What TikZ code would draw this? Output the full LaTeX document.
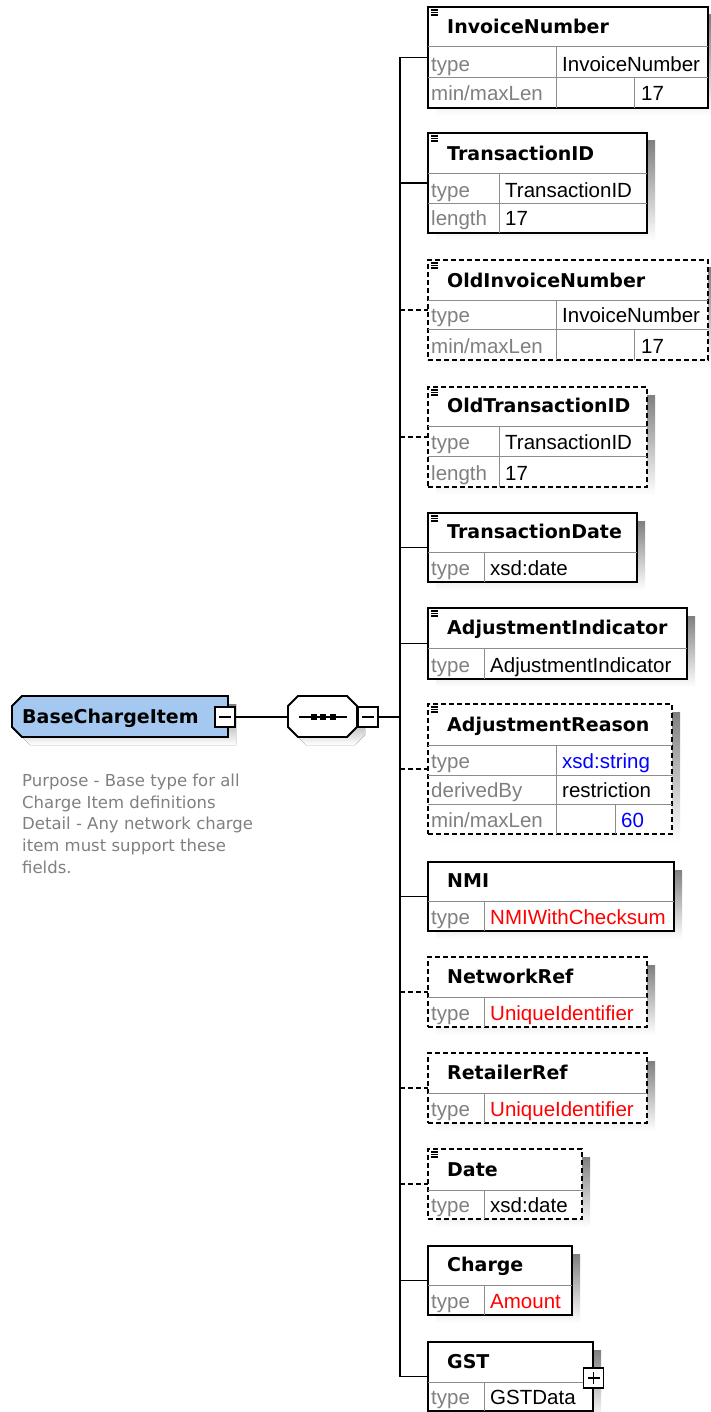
\documentclass[tikz,border=0pt]{standalone}
\usepackage{fontspec}
\setmainfont{Liberation Sans}
\newfontfamily\titlefont{DejaVu Sans}
\usetikzlibrary{calc}

\definecolor{shade}{RGB}{200,200,200}
\definecolor{gridc}{RGB}{140,140,140}
\definecolor{lblc}{RGB}{128,128,128}
\definecolor{typeblue}{RGB}{0,0,255}
\definecolor{typered}{RGB}{255,0,0}
\definecolor{ctfill}{RGB}{164,200,240}
\definecolor{notec}{RGB}{128,128,128}

\tikzset{
  elem/.style={draw=black, line width=1.8pt, fill=white, inner sep=0pt, outer sep=0pt, anchor=north west},
  optional/.style={dash pattern=on 5pt off 3pt},
  cell/.style={draw=gridc, line width=1pt},
  hdr/.style={anchor=base west, inner sep=0pt, font={\titlefont\bfseries\fontsize{19}{22}\selectfont}},
  lab/.style={anchor=base west, inner sep=0pt, text=lblc, font={\fontsize{20.5}{24}\selectfont}},
  val/.style={anchor=base west, inner sep=0pt, font={\fontsize{20.5}{24}\selectfont}},
  conn/.style={line width=1.7pt},
  expander/.style={draw=black, fill=white, line width=1.4pt, minimum size=20pt, inner sep=0pt, outer sep=0pt},
  docline/.style={line width=1.2pt},
}

% three-line documentation mark in the top-left corner of an element box
\newcommand\docmark[2]{%
  \draw[docline] (#1+3,#2+3) -- (#1+10,#2+3) (#1+3,#2+5.5) -- (#1+10,#2+5.5) (#1+3,#2+8) -- (#1+10,#2+8);}

\begin{document}
\begin{tikzpicture}[x=1pt, y=-1pt]
\path[use as bounding box, fill=white] (0,0) rectangle (710,1412);

% ---------- complex type BaseChargeItem ----------
\fill[shade] (30,704) -- (236,704) -- (236,745) -- (30,745) -- (20,735) -- (20,714) -- cycle;
\draw[line width=1.8pt, fill=ctfill] (22,696) -- (228,696) -- (228,737) -- (22,737) -- (12,727) -- (12,706) -- cycle;
\node[hdr] (bci) at (22,723) {BaseChargeItem};
\node[expander] (bcm) at (225,717) {};
\draw[line width=1.4pt] (bcm.center) +(-6,0) -- +(6,0);

\node[anchor=north west, inner sep=0pt, align=left, text=notec,
      font={\titlefont\fontsize{16.5}{21.8}\selectfont}] (note) at (22,773.5)
  {Purpose - Base type for all\\Charge Item definitions\\Detail - Any network charge\\item must support these\\fields.};

% ---------- sequence compositor ----------
\fill[shade] (306,704) -- (355,704) -- (365,714) -- (365,735) -- (355,745) -- (306,745) -- (296,735) -- (296,714) -- cycle;
\draw[line width=1.8pt, fill=white] (298,696) -- (347,696) -- (357,706) -- (357,727) -- (347,737) -- (298,737) -- (288,727) -- (288,706) -- cycle;
\node[inner sep=0pt, outer sep=0pt, minimum width=69pt, minimum height=41pt] (seq) at (322.5,716.5) {};
\draw[line width=1.5pt] (299,717) -- (347,717);
\fill (310.5,714) rectangle +(6,6);
\fill (320,714) rectangle +(6,6);
\fill (329.5,714) rectangle +(6,6);
\node[expander] (seqm) at (368,717) {};
\draw[line width=1.4pt] (seqm.center) +(-6,0) -- +(6,0);

\draw[conn] (bcm.east) -- (bcm.east -| seq.west);
\coordinate (trunk) at (400,0);

% ---------- InvoiceNumber ----------
\fill[shade] (436,15) rectangle (716,116);
\node[elem, minimum width=280pt, minimum height=101pt] (inv) at (428,7) {};
\draw[cell] (428,47) -- (708,47) (428,78) -- (708,78) (556,47) -- (556,108) (634,78) -- (634,108);
\docmark{428}{7}
\node[hdr] (invH) at (447,33.5) {InvoiceNumber};
\node[lab] (invL1) at (431,71.5) {type};
\node[val] (invV1) at (562,71.5) {InvoiceNumber};
\node[lab] (invL2) at (431,101) {min/maxLen};
\node[val] (invV2) at (641,101) {17};

% ---------- TransactionID ----------
\fill[shade] (436,141) rectangle (655,241);
\node[elem, minimum width=219pt, minimum height=100pt] (tid) at (428,133) {};
\draw[cell] (428,174) -- (647,174) (428,204) -- (647,204) (499,174) -- (499,233);
\docmark{428}{133}
\node[hdr] (tidH) at (447,160.5) {TransactionID};
\node[lab] (tidL1) at (431,197.5) {type};
\node[val] (tidV1) at (505,197.5) {TransactionID};
\node[lab] (tidL2) at (431,226) {length};
\node[val] (tidV2) at (505,226) {17};

% ---------- OldInvoiceNumber ----------
\fill[shade] (436,268) rectangle (716,368);
\node[elem, optional, minimum width=280pt, minimum height=100pt] (oinv) at (428,260) {};
\draw[cell] (428,301) -- (708,301) (428,329) -- (708,329) (556,301) -- (556,360) (634,329) -- (634,360);
\docmark{428}{260}
\node[hdr] (oinvH) at (447,287.5) {OldInvoiceNumber};
\node[lab] (oinvL1) at (431,322.5) {type};
\node[val] (oinvV1) at (562,322.5) {InvoiceNumber};
\node[lab] (oinvL2) at (431,353) {min/maxLen};
\node[val] (oinvV2) at (641,353) {17};

% ---------- OldTransactionID ----------
\fill[shade] (436,395) rectangle (655,495);
\node[elem, optional, minimum width=219pt, minimum height=100pt] (otid) at (428,387) {};
\draw[cell] (428,426) -- (647,426) (428,456) -- (647,456) (499,426) -- (499,487);
\docmark{428}{387}
\node[hdr] (otidH) at (447,412.5) {OldTransactionID};
\node[lab] (otidL1) at (431,449.5) {type};
\node[val] (otidV1) at (505,449.5) {TransactionID};
\node[lab] (otidL2) at (431,480) {length};
\node[val] (otidV2) at (505,480) {17};

% ---------- TransactionDate ----------
\fill[shade] (436,521) rectangle (645,590);
\node[elem, minimum width=209pt, minimum height=69pt] (tdate) at (428,513) {};
\draw[cell] (428,552) -- (637,552) (484,552) -- (484,582);
\docmark{428}{513}
\node[hdr] (tdateH) at (447,538.5) {TransactionDate};
\node[lab] (tdateL1) at (431,575.5) {type};
\node[val] (tdateV1) at (490,575.5) {xsd:date};

% ---------- AdjustmentIndicator ----------
\fill[shade] (436,616) rectangle (695,687);
\node[elem, minimum width=259pt, minimum height=71pt] (adjind) at (428,608) {};
\draw[cell] (428,648) -- (687,648) (484,648) -- (484,679);
\docmark{428}{608}
\node[hdr] (adjindH) at (447,634.5) {AdjustmentIndicator};
\node[lab] (adjindL1) at (431,672.5) {type};
\node[val] (adjindV1) at (490,672.5) {AdjustmentIndicator};

% ---------- AdjustmentReason ----------
\fill[shade] (436,712) rectangle (680,842);
\node[elem, optional, minimum width=244pt, minimum height=130pt] (adjr) at (428,704) {};
\draw[cell] (428,745) -- (672,745) (428,775) -- (672,775) (428,804) -- (672,804) (556,745) -- (556,834) (615,804) -- (615,834);
\docmark{428}{704}
\node[hdr] (adjrH) at (447,731.5) {AdjustmentReason};
\node[lab] (adjrL1) at (431,768.5) {type};
\node[val, text=typeblue] (adjrV1) at (562,768.5) {xsd:string};
\node[lab] (adjrL2) at (431,797.5) {derivedBy};
\node[val] (adjrV2) at (562,797.5) {restriction};
\node[lab] (adjrL3) at (431,827) {min/maxLen};
\node[val, text=typeblue] (adjrV3) at (621,827) {60};

% ---------- NMI ----------
\fill[shade] (436,870) rectangle (682,939);
\node[elem, minimum width=246pt, minimum height=69pt] (nmi) at (428,862) {};
\draw[cell] (428,901) -- (674,901) (484,901) -- (484,931);
\node[hdr] (nmiH) at (447,887.5) {NMI};
\node[lab] (nmiL1) at (431,924.5) {type};
\node[val, text=typered] (nmiV1) at (490,924.5) {NMIWithChecksum};

% ---------- NetworkRef ----------
\fill[shade] (436,965) rectangle (655,1035);
\node[elem, optional, minimum width=219pt, minimum height=70pt] (netref) at (428,957) {};
\draw[cell] (428,997) -- (647,997) (484,997) -- (484,1027);
\node[hdr] (netrefH) at (447,983.5) {NetworkRef};
\node[lab] (netrefL1) at (431,1020.5) {type};
\node[val, text=typered] (netrefV1) at (490,1020.5) {UniqueIdentifier};

% ---------- RetailerRef ----------
\fill[shade] (436,1061) rectangle (655,1131);
\node[elem, optional, minimum width=219pt, minimum height=70pt] (retref) at (428,1053) {};
\draw[cell] (428,1093) -- (647,1093) (484,1093) -- (484,1123);
\node[hdr] (retrefH) at (447,1079.5) {RetailerRef};
\node[lab] (retrefL1) at (431,1116.5) {type};
\node[val, text=typered] (retrefV1) at (490,1116.5) {UniqueIdentifier};

% ---------- Date ----------
\fill[shade] (436,1157) rectangle (590,1227);
\node[elem, optional, minimum width=154pt, minimum height=70pt] (date) at (428,1149) {};
\draw[cell] (428,1190) -- (582,1190) (484,1190) -- (484,1219);
\docmark{428}{1149}
\node[hdr] (dateH) at (447,1176.5) {Date};
\node[lab] (dateL1) at (431,1212.5) {type};
\node[val] (dateV1) at (490,1212.5) {xsd:date};

% ---------- Charge ----------
\fill[shade] (436,1254) rectangle (580,1323);
\node[elem, minimum width=144pt, minimum height=69pt] (charge) at (428,1246) {};
\draw[cell] (428,1285) -- (572,1285) (484,1285) -- (484,1315);
\node[hdr] (chargeH) at (447,1271.5) {Charge};
\node[lab] (chargeL1) at (431,1308.5) {type};
\node[val, text=typered] (chargeV1) at (490,1308.5) {Amount};

% ---------- GST ----------
\fill[shade] (436,1350) rectangle (601,1419);
\node[elem, minimum width=165pt, minimum height=69pt] (gst) at (428,1342) {};
\draw[cell] (428,1382) -- (593,1382) (484,1382) -- (484,1411);
\node[hdr] (gstH) at (447,1368.5) {GST};
\node[lab] (gstL1) at (431,1404.5) {type};
\node[val] (gstV1) at (490,1404.5) {GSTData};
\node[expander] (gstp) at (593.5,1378) {};
\draw[line width=1.4pt] (gstp.center) +(-6,0) -- +(6,0) +(0,-6) -- +(0,6);

% ---------- connectors ----------
\draw[conn] (seqm.east) -- (trunk |- seqm.east);
\draw[conn] (trunk |- inv.west) -- (trunk |- gst.west);
\draw[conn] (trunk |- inv.west) -- (inv.west);
\draw[conn] (trunk |- tid.west) -- (tid.west);
\draw[conn, optional] (trunk |- oinv.west) -- (oinv.west);
\draw[conn, optional] (trunk |- otid.west) -- (otid.west);
\draw[conn] (trunk |- tdate.west) -- (tdate.west);
\draw[conn] (trunk |- adjind.west) -- (adjind.west);
\draw[conn, optional] (trunk |- adjr.west) -- (adjr.west);
\draw[conn] (trunk |- nmi.west) -- (nmi.west);
\draw[conn, optional] (trunk |- netref.west) -- (netref.west);
\draw[conn, optional] (trunk |- retref.west) -- (retref.west);
\draw[conn, optional] (trunk |- date.west) -- (date.west);
\draw[conn] (trunk |- charge.west) -- (charge.west);
\draw[conn] (trunk |- gst.west) -- (gst.west);
\end{tikzpicture}
\end{document}
